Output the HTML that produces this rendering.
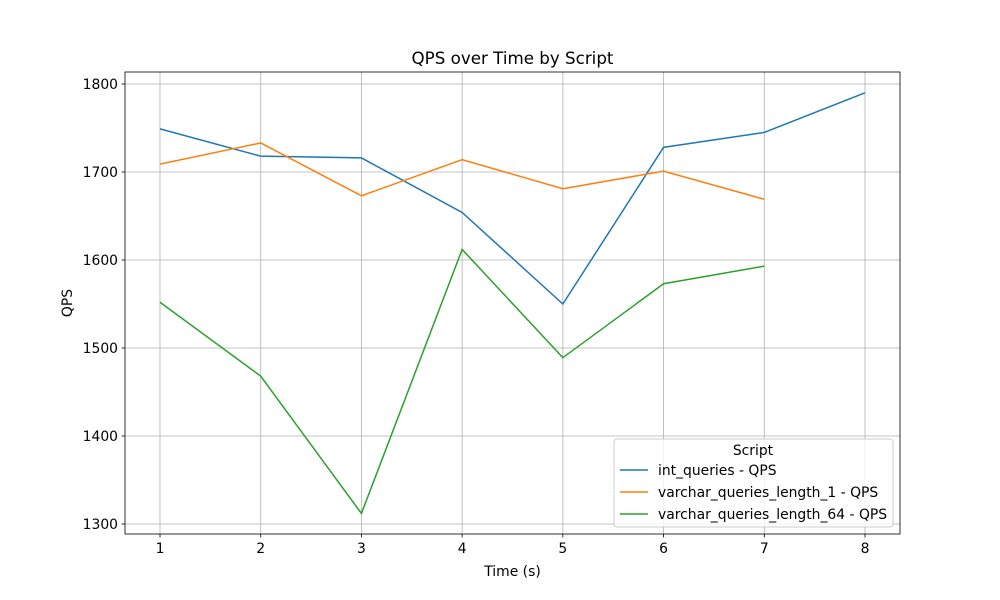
<!DOCTYPE html>
<html><head><meta charset="utf-8">
<style>
body{margin:0;background:#fff;}
svg{display:block;font-family:"DejaVu Sans","Liberation Sans",sans-serif;}
</style></head>
<body>
<svg id="chart" width="1000" height="600" viewBox="0 0 1000 600"></svg>
<script>
const xCats = [1,2,3,4,5,6,7,8];
const yTicks = [1300,1400,1500,1600,1700,1800];
const seriesNames = ["int_queries - QPS","varchar_queries_length_1 - QPS","varchar_queries_length_64 - QPS"];
const intQps = [1749,1718,1716,1654,1550,1728,1745,1790];
const varchar1Qps = [1709,1733,1673,1714,1681,1701,1669];
const varchar64Qps = [1552,1468,1312,1612,1489,1573,1593];
const colors = ["#1f77b4","#ff7f0e","#2ca02c"];

const L=125,R=900,T=72,B=534;
const xs = v => 160 + (v-1)*(865-160)/7;
const ys = v => 84 + (1800-v)*(524-84)/500;
const svg = document.getElementById('chart');
const NS='http://www.w3.org/2000/svg';
function mk(tag, attrs, parent){const e=document.createElementNS(NS,tag);for(const k in attrs)e.setAttribute(k,attrs[k]);(parent||svg).appendChild(e);return e;}

xCats.forEach(v=>{
  const g=mk('line',{x1:xs(v),x2:xs(v),y1:T,y2:B,stroke:'#b0b0b0','stroke-width':0.8});
  
  
});
yTicks.forEach(v=>{
  const g=mk('line',{x1:L,x2:R,y1:ys(v),y2:ys(v),stroke:'#b0b0b0','stroke-width':0.8});
  
  
});
[intQps,varchar1Qps,varchar64Qps].forEach((arr,i)=>{
  const pts=arr.map((v,j)=>xs(xCats[j])+','+ys(v)).join(' ');
  const p=mk('polyline',{points:pts,fill:'none',stroke:colors[i],'stroke-width':1.5});
  
  
});
const fr=mk('rect',{x:L,y:T,width:R-L,height:B-T,fill:'none',stroke:'#000','stroke-width':0.8});


xCats.forEach(v=>{
  mk('line',{x1:xs(v),x2:xs(v),y1:B,y2:B+3.5,stroke:'#000','stroke-width':0.8});
  const t=mk('text',{x:xs(v),y:B+19,'text-anchor':'middle','font-size':13.9});
  t.textContent=v;
  
  
});
yTicks.forEach(v=>{
  mk('line',{x1:L-3.5,x2:L,y1:ys(v),y2:ys(v),stroke:'#000','stroke-width':0.8});
  const t=mk('text',{x:L-7,y:ys(v)+5,'text-anchor':'end','font-size':13.9});
  t.textContent=v;
  
  
});
let t=mk('text',{x:512.5,y:64,'text-anchor':'middle','font-size':16.7});
t.textContent='QPS over Time by Script';


t=mk('text',{x:512.5,y:576,'text-anchor':'middle','font-size':13.9});
t.textContent='Time (s)';


t=mk('text',{x:72,y:303,'text-anchor':'middle','font-size':13.9,transform:'rotate(-90 72 303)'});
t.textContent='QPS';


const lg=mk('g',{});


mk('rect',{x:614,y:439,width:279,height:88,rx:3,fill:'#fff','fill-opacity':0.8,stroke:'#cccccc','stroke-width':1},lg);
t=mk('text',{x:753,y:455,'text-anchor':'middle','font-size':13.9},lg);
t.textContent='Script';


seriesNames.forEach((n,i)=>{
  const y=470+i*22;
  const e=mk('g',{},lg);
  
  
  mk('line',{x1:620,x2:648,y1:y,y2:y,stroke:colors[i],'stroke-width':1.5},e);
  const tt=mk('text',{x:658,y:y+5,'font-size':13.9},e);
  tt.textContent=n;
});
</script>
</body></html>
